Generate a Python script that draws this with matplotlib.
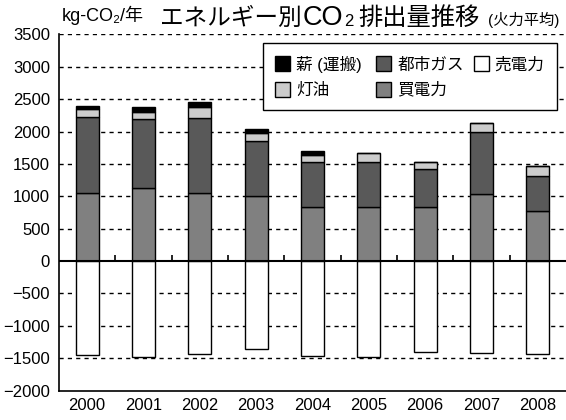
import numpy as np
import matplotlib
matplotlib.use("Agg")
import matplotlib.pyplot as plt

plt.rcParams['font.family'] = ['Liberation Sans', 'Noto Sans CJK JP', 'DejaVu Sans']

# values (kg-CO2 per year)
years = ['2000', '2001', '2002', '2003', '2004', '2005', '2006', '2007', '2008']
buy_elec = [1050, 1130, 1050, 1000, 830, 835, 835, 1035, 770]      # 買電力
city_gas = [1170, 1060, 1160, 860, 705, 690, 585, 950, 545]        # 都市ガス
kerosene = [130, 115, 165, 115, 105, 150, 115, 145, 155]           # 灯油
firewood = [50, 75, 75, 65, 65, 0, 0, 0, 0]                        # 薪（運搬）
sell_elec = [-1455, -1475, -1435, -1360, -1465, -1480, -1400, -1425, -1440]  # 売電力

yticks = [3500, 3000, 2500, 2000, 1500, 1000, 500, 0, -500, -1000, -1500, -2000]

fig = plt.figure(figsize=(5.66, 4.2), dpi=100)
ax = fig.add_axes([0.1042, 0.0698, 0.8958, 0.8485])

x = np.arange(len(years))
w = 0.41
kw = dict(width=w, edgecolor='black', linewidth=1.0, zorder=3)

b_buy = ax.bar(x, buy_elec, color='#808080', **kw)
bottom = np.array(buy_elec)
b_gas = ax.bar(x, city_gas, bottom=bottom, color='#595959', **kw)
bottom = bottom + np.array(city_gas)
b_ker = ax.bar(x, kerosene, bottom=bottom, color='#cccccc', **kw)
bottom = bottom + np.array(kerosene)
b_wood = ax.bar(x, firewood, bottom=bottom, color='black', **kw)
b_sell = ax.bar(x, sell_elec, color='white', **kw)

ax.set_xlim(-0.5, len(years) - 0.5)
ax.set_ylim(-2000, 3500)
ax.set_yticks(yticks)
ax.set_xticks(x)
ax.set_xticklabels(years)
ax.tick_params(axis='both', length=0, labelsize=12)
ax.tick_params(axis='y', pad=6.5)
ax.tick_params(axis='x', pad=5)

# dashed grid (not at 0 / -2000)
for v in yticks:
    if v not in (0, -2000):
        ax.axhline(v, color='black', linestyle=(0, (3, 3)), linewidth=1.0, zorder=1)

# zero line with small ticks between categories
ax.axhline(0, color='black', linewidth=1.5, zorder=4)
ax.vlines(x[:-1] + 0.5, 0, 90, color='black', linewidth=1.2, zorder=4)

for s in ['top', 'right']:
    ax.spines[s].set_visible(False)
ax.spines['left'].set_linewidth(1.2)
ax.spines['bottom'].set_linewidth(1.2)

leg = ax.legend([b_wood, b_ker, b_gas, b_buy, b_sell],
                ['薪 (運搬) ', '灯油', '都市ガス', '買電力', '売電力'],
                ncol=3, loc='upper right', bbox_to_anchor=(557 / 566, 1 - 43 / 420),
                bbox_transform=fig.transFigure, fontsize=12, frameon=True,
                fancybox=False, framealpha=1, edgecolor='black',
                handlelength=0.9, handleheight=1.0, handletextpad=0.35,
                columnspacing=0.6, labelspacing=0.55, borderpad=0.75,
                borderaxespad=0)
leg.get_frame().set_linewidth(1.0)
leg.set_zorder(5)

# titles
fig.text(62 / 566, 1 - 21 / 420, 'kg-CO₂/年', fontsize=13, va='baseline')
fig.text(160 / 566, 1 - 25 / 420, 'エネルギー別', fontsize=17, va='baseline')
fig.text(303 / 566, 1 - 25 / 420, 'CO', fontsize=19.5, va='baseline')
fig.text(344 / 566, 1 - 26 / 420, '2', fontsize=12, va='baseline')
fig.text(358 / 566, 1 - 25 / 420, '排出量推移', fontsize=17.5, va='baseline')
fig.text(488 / 566, 1 - 25 / 420, '(火力平均)', fontsize=11, va='baseline')

fig.savefig('out.png', dpi=100)
